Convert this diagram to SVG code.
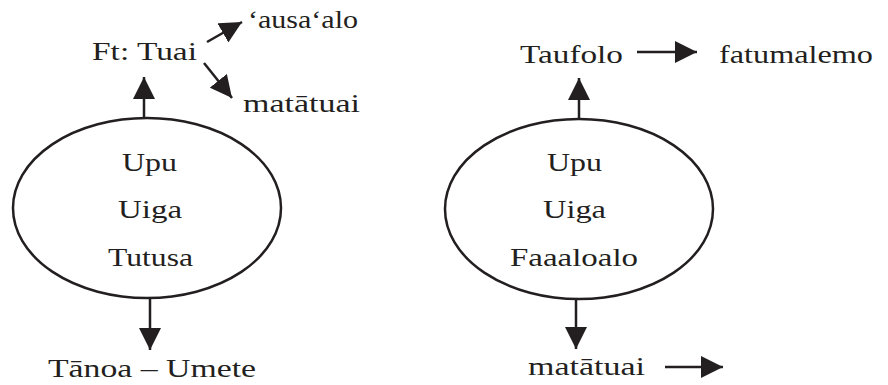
<svg xmlns="http://www.w3.org/2000/svg" width="888" height="385" viewBox="0 0 888 385">
<defs>
<style>
.t{font-family:"Liberation Serif","DejaVu Serif",serif;font-size:26px;fill:#231f20}
.e{fill:none;stroke:#231f20;stroke-width:2.5}
.c{fill:none;stroke:#231f20;stroke-width:2.5}
</style>
<marker id="ah" markerUnits="userSpaceOnUse" markerWidth="22" markerHeight="22" refX="22" refY="11" orient="auto" viewBox="0 0 22 22">
<path d="M0,0 L22,11 L0,22 Z" fill="#231f20"/>
</marker>
</defs>
<rect width="888" height="385" fill="#fff"/>
<g id="connectors">
<line class="c" x1="144" y1="118" x2="144" y2="77" marker-end="url(#ah)"/>
<line class="c" x1="207" y1="42" x2="242" y2="22" marker-end="url(#ah)"/>
<line class="c" x1="204" y1="63" x2="232" y2="98" marker-end="url(#ah)"/>
<line class="c" x1="150" y1="298" x2="150" y2="350" marker-end="url(#ah)"/>
<line class="c" x1="579" y1="120" x2="579" y2="78" marker-end="url(#ah)"/>
<line class="c" x1="637" y1="52" x2="697" y2="52" marker-end="url(#ah)"/>
<line class="c" x1="576" y1="299" x2="576" y2="349" marker-end="url(#ah)"/>
<line class="c" x1="665" y1="367" x2="723" y2="367" marker-end="url(#ah)"/>
</g>
<g id="ellipse-left">
<ellipse class="e" cx="147" cy="208" rx="134" ry="90"/>
<text class="t" x="122" y="171" textLength="55" lengthAdjust="spacingAndGlyphs">Upu</text>
<text class="t" x="118" y="218" textLength="64" lengthAdjust="spacingAndGlyphs">Uiga</text>
<text class="t" x="108" y="266" textLength="85" lengthAdjust="spacingAndGlyphs">Tutusa</text>
</g>
<g id="ft-tuai"><text class="t" x="92" y="60" textLength="105" lengthAdjust="spacingAndGlyphs">Ft: Tuai</text></g>
<g id="ausaalo"><text class="t" x="248" y="28" textLength="110" lengthAdjust="spacingAndGlyphs">‘ausa‘alo</text></g>
<g id="matatuai-left"><text class="t" x="243" y="112" textLength="117" lengthAdjust="spacingAndGlyphs">matātuai</text></g>
<g id="tanoa-umete"><text class="t" x="48" y="377" textLength="208" lengthAdjust="spacingAndGlyphs">Tānoa – Umete</text></g>
<g id="ellipse-right">
<ellipse class="e" cx="579" cy="209" rx="134" ry="90"/>
<text class="t" x="547" y="171" textLength="55" lengthAdjust="spacingAndGlyphs">Upu</text>
<text class="t" x="543" y="218" textLength="63" lengthAdjust="spacingAndGlyphs">Uiga</text>
<text class="t" x="510" y="266" textLength="128" lengthAdjust="spacingAndGlyphs">Faaaloalo</text>
</g>
<g id="taufolo"><text class="t" x="520" y="63" textLength="103" lengthAdjust="spacingAndGlyphs">Taufolo</text></g>
<g id="fatumalemo"><text class="t" x="719" y="63" textLength="154" lengthAdjust="spacingAndGlyphs">fatumalemo</text></g>
<g id="matatuai-right"><text class="t" x="528" y="375" textLength="117" lengthAdjust="spacingAndGlyphs">matātuai</text></g>
</svg>
